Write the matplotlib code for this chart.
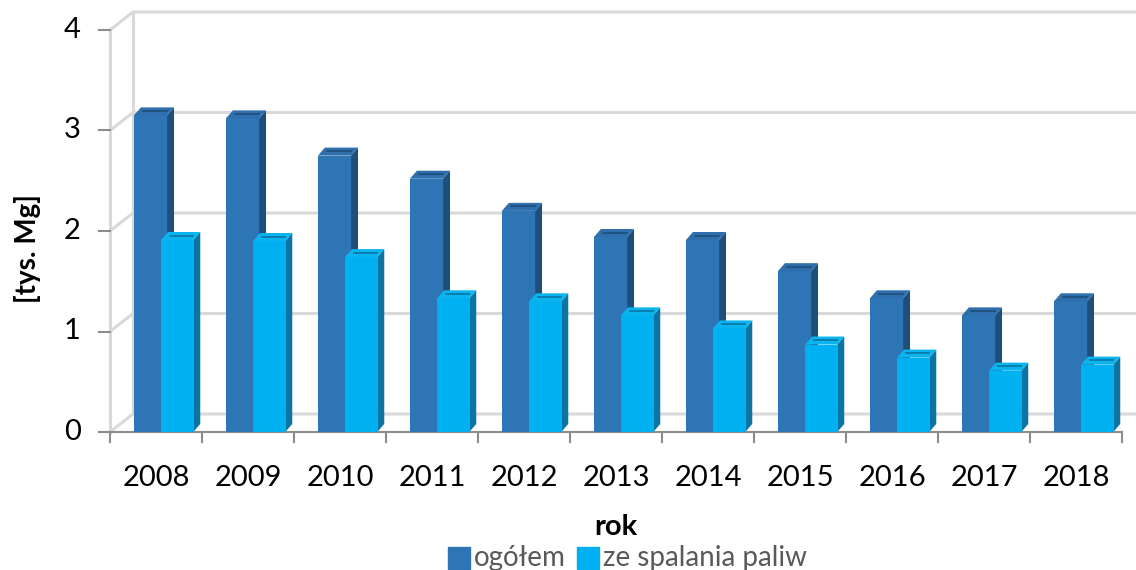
import numpy as np
import matplotlib.pyplot as plt

plt.rcParams['font.family'] = ['Lato', 'DejaVu Sans']

years = ['2008', '2009', '2010', '2011', '2012', '2013', '2014', '2015', '2016', '2017', '2018']
ogolem = [3.15, 3.12, 2.75, 2.52, 2.20, 1.94, 1.91, 1.60, 1.33, 1.16, 1.30]
paliwa = [1.91, 1.90, 1.74, 1.33, 1.30, 1.16, 1.03, 0.87, 0.74, 0.61, 0.67]
yticks = [0, 1, 2, 3, 4]
series_names = ['ogółem', 'ze spalania paliw']

# colours (front, side, top)
c_dark = ('#2E75B6', '#1F4E79', '#2F6FAD')
c_light = ('#00B0F0', '#0A74A2', '#0AB4EE')
grid_c = '#D9D9D9'
axis_c = '#8C8C8C'

W, H = 1136, 570
fig = plt.figure(figsize=(W / 100, H / 100), dpi=100)
ax = fig.add_axes([0, 0, 1, 1])
# pixel mapping: category unit = 92 px, value unit = 100.5 px, origin at (110, 432)
ax.set_xlim(-110 / 92, (W - 110) / 92)
ax.set_ylim((432 - H) / 100.5, 432 / 100.5)
ax.axis('off')

n = len(years)
dX, dY = 0.25, 0.179      # wall depth
bx, by = 0.076, 0.08      # bar depth
xmax = ax.get_xlim()[1] + 0.1

# walls & gridlines
for t in yticks:
    ax.plot([0, dX, xmax], [t, t + dY, t + dY], color=grid_c, lw=2.2, zorder=1,
            solid_capstyle='butt')
ax.plot([0, 0], [0, yticks[-1]], color=grid_c, lw=2.2, zorder=1)
ax.plot([dX, dX], [dY, yticks[-1] + dY], color=grid_c, lw=2.2, zorder=1)

# front axes
ax.plot([0, n], [0, 0], color=axis_c, lw=1.5, zorder=2)
for i in range(n + 1):
    ax.plot([i, i], [0, -0.1], color=axis_c, lw=1.5, zorder=2)
for t in yticks:
    ax.plot([-0.12, 0], [t, t], color=axis_c, lw=1.5, zorder=2)
    ax.text(-0.32, t, str(t), ha='right', va='center', fontsize=21, color='#000000')


def bar3d(x0, w, v, cols, z):
    front, side, top = cols
    ax.bar(x0, v, width=w, align='edge', color=front, zorder=z, linewidth=0)
    ax.fill([x0 + w, x0 + w + bx, x0 + w + bx, x0 + w],
            [0, by, v + by, v], color=side, zorder=z, lw=0)
    ax.fill([x0, x0 + bx, x0 + w + bx, x0 + w],
            [v, v + by, v + by, v], color=top, zorder=z, lw=0)
    ax.plot([x0 + bx * 1.3, x0 + w], [v + by * 0.55, v + by * 0.55],
            color=side, lw=1.2, zorder=z)


for i in range(n):
    bar3d(i + 0.26, 0.36, ogolem[i], c_dark, 3 + 2 * i)
    bar3d(i + 0.555, 0.35, paliwa[i], c_light, 4 + 2 * i)
    ax.text(i + 0.5, -0.46, years[i], ha='center', va='center', fontsize=21)

ax.text(5.5, -0.95, 'rok', ha='center', va='center', fontsize=21,
        fontweight='bold')
ax.text(-0.9, 1.83, '[tys. Mg]', ha='center', va='center', fontsize=20,
        fontweight='bold', rotation=90)

# legend
leg_y = -1.255
ax.scatter([3.79], [leg_y], marker='s', s=240, color=c_dark[0], zorder=5)
ax.text(3.95, leg_y, series_names[0], ha='left', va='center', fontsize=20,
        color='#595959')
ax.scatter([5.20], [leg_y], marker='s', s=240, color=c_light[0], zorder=5)
ax.text(5.36, leg_y, series_names[1], ha='left', va='center', fontsize=20,
        color='#595959')

fig.savefig('out.png', dpi=100)
